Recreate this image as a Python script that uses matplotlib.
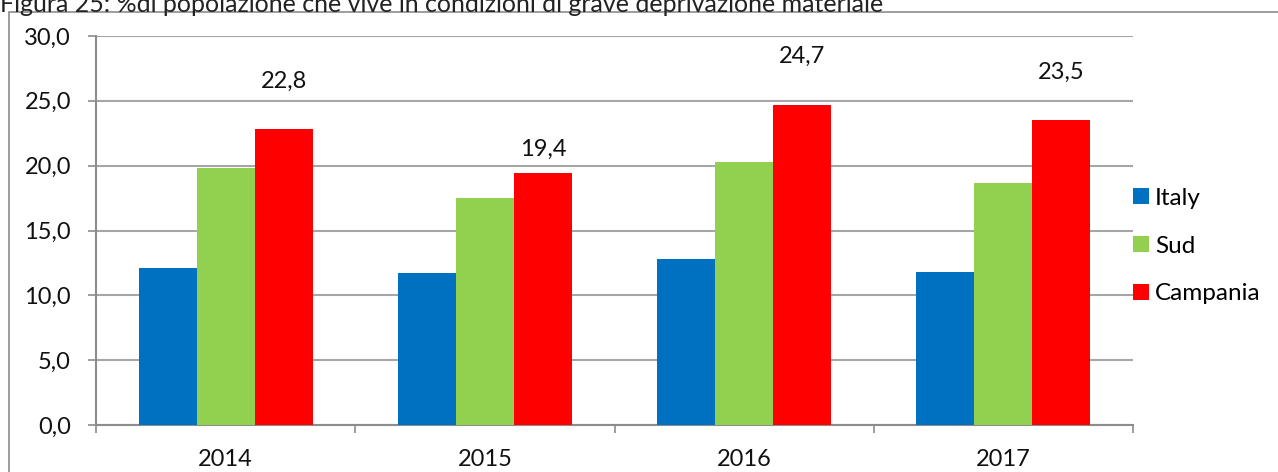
#!/usr/bin/env python3
import matplotlib
matplotlib.use("Agg")
import matplotlib.pyplot as plt
from matplotlib.patches import Rectangle

years = ["2014", "2015", "2016", "2017"]
italy = [12.1, 11.7, 12.8, 11.8]
sud = [19.8, 17.5, 20.3, 18.7]
campania = [22.8, 19.4, 24.7, 23.5]
series_names = ["Italy", "Sud", "Campania"]
series_colors = ["#0070C0", "#92D050", "#FF0000"]

# label lift above the Campania bars (points); labels were placed by hand in the original
label_lift = [30, 13, 30, 30]

plt.rcParams['font.family'] = ['Lato', 'DejaVu Sans']
fontsize = 17
grey = "#8c8c8c"

W, H = 1278, 472
fig = plt.figure(figsize=(W / 100, H / 100), dpi=100)
ax = fig.add_axes([96 / W, 47 / H, (1133 - 96) / W, (425 - 36) / H])

# outer chart frame (partly off the picture)
fig.patches.append(Rectangle((9 / W, -0.2), 2.0, 1.2 - 12 / H, transform=fig.transFigure,
                             fill=False, edgecolor=grey, linewidth=1.2))

fig.text(0, 1 - 12 / H, "Figura 25: %di popolazione che vive in condizioni di grave deprivazione materiale",
         fontsize=18, va='baseline', ha='left', color='#222222')

bar_width = 0.2237
x_values = list(range(len(years)))
all_series = [italy, sud, campania]
for k, (vals, name, col) in enumerate(zip(all_series, series_names, series_colors)):
    offset = (k - 1) * bar_width
    ax.bar([x + offset for x in x_values], vals, bar_width, color=col, label=name,
           zorder=3, linewidth=0)
    if name == "Campania":
        for x, v, lift in zip(x_values, vals, label_lift):
            ax.annotate(f"{v:.1f}".replace(".", ","), (x + offset, v), xytext=(0, lift),
                        textcoords='offset points', ha='center', va='baseline',
                        fontsize=fontsize, color='#111111')

ax.set_xlim(-0.5, 3.5)
ax.set_ylim(0, 30)
ax.set_yticks(range(0, 31, 5))
ax.set_yticklabels([f"{t:.1f}".replace(".", ",") for t in range(0, 31, 5)])
ax.set_xticks(x_values)
ax.set_xticklabels(years)
ax.set_xticks([-0.5, 0.5, 1.5, 2.5, 3.5], minor=True)

ax.grid(axis='y', color='#a6a6a6', linewidth=1.5, zorder=0)
ax.set_axisbelow(True)
for side in ['top', 'right']:
    ax.spines[side].set_visible(False)
for side in ['left', 'bottom']:
    ax.spines[side].set_color(grey)
    ax.spines[side].set_linewidth(1.5)

ax.tick_params(axis='y', length=6, width=1.2, color=grey, pad=12, labelsize=fontsize, labelcolor='#111111')
ax.tick_params(axis='x', which='major', length=0, pad=17, labelsize=fontsize, labelcolor='#111111')
ax.tick_params(axis='x', which='minor', length=6, width=1.2, color=grey)

ax.legend(loc='center left', bbox_to_anchor=(1.0, 0.46), frameon=False, fontsize=17.5,
          handlelength=0.65, handleheight=0.65, handletextpad=0.25, labelspacing=1.1,
          borderaxespad=0.0, borderpad=0.0)

plt.savefig("out.png", dpi=100)
plt.close()
